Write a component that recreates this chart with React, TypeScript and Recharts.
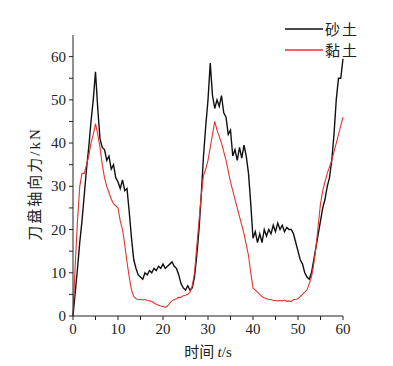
import React from "react"
import { LineChart, Line, XAxis, YAxis, Label } from "recharts"

// sampled every 0.5 s, 0 to 60 s
const TIME_STEP = 0.5

const SAND = [
  0, 5.5, 11, 17, 22, 28, 34, 39, 45, 50,
  56.5, 48, 41, 39, 38.5, 36, 37, 34, 35, 32,
  31, 29.5, 31.5, 29, 29.5, 24, 18, 13, 11, 9.5,
  9, 8.5, 10, 9.5, 10.5, 10, 11, 10.5, 11.5, 11,
  12, 11, 11.5, 12, 12.5, 11.5, 11, 9.5, 7.5, 6.5,
  6, 7, 6, 6.5, 9, 14, 20, 28, 37, 44,
  50, 58.5, 51, 48, 50, 48.5, 51, 47, 46, 42,
  43, 37, 38.5, 36, 39, 36.5, 39.5, 37, 33, 26,
  18, 19.5, 17, 19, 17, 20, 18.5, 20, 19, 21,
  19.5, 21.5, 20, 21, 19.5, 20.5, 20, 20, 19, 17,
  15, 13, 12, 10, 9, 8.5, 10, 13, 16, 19,
  22, 25, 27, 30, 32, 36, 42, 50, 55, 55,
  59.5,
]

const CLAY = [
  0, 12, 22, 30, 33, 33, 35, 37, 40, 42,
  44.5, 42, 39, 35, 32, 30, 28.5, 27, 26, 25.5,
  25, 22, 20, 16.5, 12.5, 9, 6, 4.5, 4, 3.8,
  3.8, 3.7, 3.8, 3.6, 3.5, 3.4, 3, 2.7, 2.5, 2.3,
  2.2, 2.0, 2.3, 3, 3.5, 3.8, 4, 4.3, 4.3, 4.7,
  4.8, 5, 5.5, 7, 10, 16, 22, 28, 32.5, 34,
  36, 39, 42, 45, 43, 41.5, 40, 38, 36, 33.5,
  31, 29, 27, 25, 23, 21, 19, 16.5, 14, 10,
  6.5, 6, 5.5, 5, 4.5, 4.2, 4, 3.8, 3.8, 3.6,
  3.6, 3.5, 3.6, 3.5, 3.7, 3.4, 3.5, 3.3, 3.8, 3.8,
  4, 4.5, 5, 5.5, 6, 7.5, 9, 12, 16, 21,
  26, 29, 31, 33, 34.5, 36, 38, 40, 42, 44,
  46,
]

const X_TICKS = [0, 5, 10, 15, 20, 25, 30, 35, 40, 45, 50, 55, 60]
const Y_TICKS = [0, 5, 10, 15, 20, 25, 30, 35, 40, 45, 50, 55, 60]

const SERIES = [
  { key: "sand", name: "砂土", color: "#111", width: 1.4 },
  { key: "clay", name: "黏土", color: "#e3342f", width: 1.1 },
]

const data = SAND.map((v, i) => ({ t: i * TIME_STEP, sand: v, clay: CLAY[i] }))

const FONT = "'Liberation Serif', 'Noto Sans CJK SC', serif"
const CJK = "'Noto Sans CJK SC', sans-serif"

function XTick(props: any) {
  const { x, y, payload } = props
  if (payload.value % 10 !== 0) return null
  return (
    <text x={x} y={y + 12} textAnchor="middle" fontFamily={FONT} fontSize={15} fill="#222">
      {payload.value}
    </text>
  )
}

function YTick(props: any) {
  const { x, y, payload } = props
  if (payload.value % 10 !== 0) return null
  return (
    <text x={x - 1} y={y + 5} textAnchor="end" fontFamily={FONT} fontSize={15} fill="#222">
      {payload.value}
    </text>
  )
}

export default function App() {
  return (
    <div style={{ position: "absolute", left: 0, top: 0, width: 393, height: 366, background: "#fff" }}>
      <LineChart width={393} height={366} data={data} margin={{ top: 35, right: 50, left: 33, bottom: 20 }}>
        <XAxis
          dataKey="t"
          type="number"
          domain={[0, 60]}
          ticks={X_TICKS}
          interval={0}
          tick={XTick}
          tickSize={4}
          height={30}
          stroke="#222"
          tickLine={{ stroke: "#222" }}
        >
          <Label
            content={() => (
              <text x={208} y={357} textAnchor="middle" fontSize={15} fill="#222">
                <tspan fontFamily={CJK}>时间 </tspan>
                <tspan fontFamily={FONT} fontStyle="italic">t</tspan>
                <tspan fontFamily={FONT}>/s</tspan>
              </text>
            )}
          />
        </XAxis>
        <YAxis
          type="number"
          domain={[0, 65]}
          ticks={Y_TICKS}
          interval={0}
          tick={YTick}
          tickSize={4}
          width={40}
          stroke="#222"
          tickLine={{ stroke: "#222" }}
        >
          <Label
            content={() => (
              <text x={40} y={184} transform="rotate(-90 40 184)" textAnchor="middle" fontSize={15} fill="#222" letterSpacing={2}>
                <tspan fontFamily={CJK}>刀盘轴向力</tspan>
                <tspan fontFamily={FONT}>/kN</tspan>
              </text>
            )}
          />
        </YAxis>
        {SERIES.map((s) => (
          <Line key={s.key} dataKey={s.key} name={s.name} stroke={s.color} strokeWidth={s.width} dot={false} isAnimationActive={false} />
        ))}
      </LineChart>
      {/* legend sits over the top-right corner, outside the chart layout */}
      <div style={{ position: "absolute", left: 285, top: 18 }}>
        {SERIES.map((s) => (
          <div key={s.key} style={{ display: "flex", alignItems: "center", height: 21 }}>
            <svg width={38} height={6}>
              <line x1={0} y1={3} x2={38} y2={3} stroke={s.color} strokeWidth={1.3} />
            </svg>
            <span style={{ fontSize: 15, marginLeft: 2, color: "#222", fontFamily: CJK, letterSpacing: 2 }}>{s.name}</span>
          </div>
        ))}
      </div>
    </div>
  )
}
